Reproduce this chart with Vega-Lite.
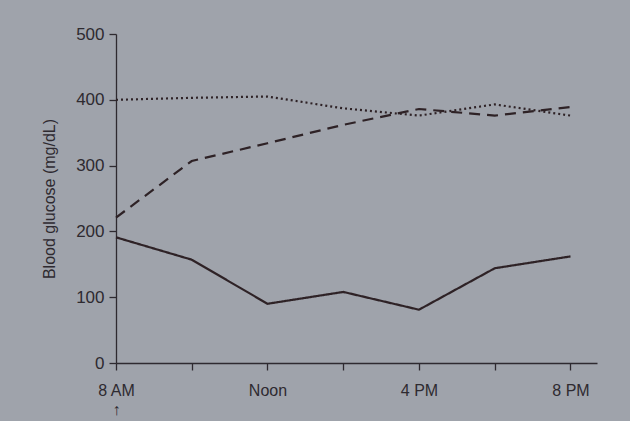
{
  "$schema": "https://vega.github.io/schema/vega-lite/v6.json",
  "width": 481,
  "height": 329,
  "autosize": "none",
  "padding": {"left": 116, "top": 34, "right": 33, "bottom": 58},
  "background": "#9fa3ab",
  "config": {
    "view": {"stroke": null},
    "font": "Liberation Sans",
    "axis": {"grid": false, "domainColor": "#2e2a30", "tickColor": "#2e2a30", "labelColor": "#2e2a30", "titleColor": "#2e2a30", "labelFont": "Liberation Sans", "titleFont": "Liberation Sans", "domainWidth": 1.3, "tickWidth": 1.3}
  },
  "data": {
    "values": [
      {"hour": 8, "glucose": 191, "series": "solid"},
      {"hour": 10, "glucose": 157, "series": "solid"},
      {"hour": 12, "glucose": 90, "series": "solid"},
      {"hour": 14, "glucose": 108, "series": "solid"},
      {"hour": 16, "glucose": 81, "series": "solid"},
      {"hour": 18, "glucose": 144, "series": "solid"},
      {"hour": 20, "glucose": 162, "series": "solid"},
      {"hour": 8, "glucose": 221, "series": "dashed"},
      {"hour": 10, "glucose": 307, "series": "dashed"},
      {"hour": 12, "glucose": 334, "series": "dashed"},
      {"hour": 14, "glucose": 362, "series": "dashed"},
      {"hour": 16, "glucose": 386, "series": "dashed"},
      {"hour": 18, "glucose": 376, "series": "dashed"},
      {"hour": 20, "glucose": 389, "series": "dashed"},
      {"hour": 8, "glucose": 400, "series": "dotted"},
      {"hour": 10, "glucose": 403, "series": "dotted"},
      {"hour": 12, "glucose": 405, "series": "dotted"},
      {"hour": 14, "glucose": 387, "series": "dotted"},
      {"hour": 16, "glucose": 376, "series": "dotted"},
      {"hour": 18, "glucose": 393, "series": "dotted"},
      {"hour": 20, "glucose": 376, "series": "dotted"}
    ]
  },
  "mark": {"type": "line", "color": "#2e2226", "strokeWidth": 2.2},
  "encoding": {
    "x": {
      "field": "hour", "type": "quantitative",
      "scale": {"domain": [8, 20.7], "nice": false, "zero": false},
      "axis": {
        "title": null,
        "values": [8, 10, 12, 14, 16, 18, 20],
        "labelExpr": "datum.value == 8 ? ['8 AM', '↑'] : datum.value == 12 ? 'Noon' : datum.value == 16 ? '4 PM' : datum.value == 20 ? '8 PM' : ''",
        "labelFontSize": 16,
        "labelPadding": 12,
        "labelLineHeight": 19,
        "tickSize": 7,
        "labelFlush": false
      }
    },
    "y": {
      "field": "glucose", "type": "quantitative",
      "scale": {"domain": [0, 500], "nice": false},
      "axis": {
        "title": "Blood glucose (mg/dL)",
        "values": [0, 100, 200, 300, 400, 500],
        "labelFontSize": 17,
        "titleFontSize": 16,
        "titleFontWeight": "normal",
        "tickSize": 7,
        "labelPadding": 5,
        "titlePadding": 18
      }
    },
    "strokeDash": {
      "field": "series", "type": "nominal",
      "scale": {"domain": ["solid", "dashed", "dotted"], "range": [[1, 0], [11, 7], [2, 3]]},
      "legend": null
    },
    "detail": {"field": "series"}
  }
}
